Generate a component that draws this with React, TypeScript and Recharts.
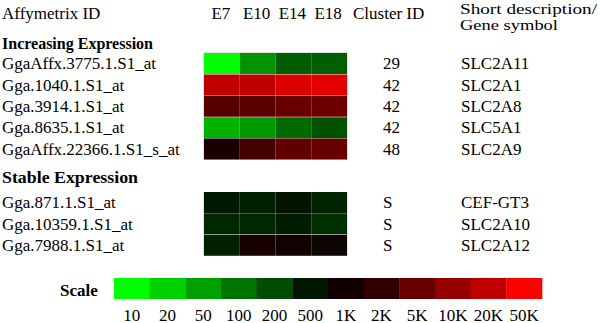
import React from 'react';
import { BarChart, Bar, XAxis, YAxis, Cell, ReferenceArea } from 'recharts';

// ---- data ----
const stages = ['E7', 'E10', 'E14', 'E18'];

const incIds = ['GgaAffx.3775.1.S1_at', 'Gga.1040.1.S1_at', 'Gga.3914.1.S1_at', 'Gga.8635.1.S1_at', 'GgaAffx.22366.1.S1_s_at'];
const incClusters = ['29', '42', '42', '42', '48'];
const incSymbols = ['SLC2A11', 'SLC2A1', 'SLC2A8', 'SLC5A1', 'SLC2A9'];
const incE7 = [10, 20000, 3500, 35, 1200];
const incE10 = [60, 20000, 4000, 55, 2800];
const incE14 = [150, 30000, 5000, 120, 4500];
const incE18 = [150, 33000, 5300, 180, 5000];

const stbIds = ['Gga.871.1.S1_at', 'Gga.10359.1.S1_at', 'Gga.7988.1.S1_at'];
const stbClusters = ['S', 'S', 'S'];
const stbSymbols = ['CEF-GT3', 'SLC2A10', 'SLC2A12'];
const stbE7 = [500, 380, 430];
const stbE10 = [430, 380, 1150];
const stbE14 = [560, 460, 950];
const stbE18 = [400, 330, 850];

const scaleLabels = ['10', '20', '50', '100', '200', '500', '1K', '2K', '5K', '10K', '20K', '50K'];
const scaleValues = [10, 20, 50, 100, 200, 500, 1000, 2000, 5000, 10000, 20000, 50000];
const scaleColors = ['#00ff00', '#00d200', '#00a000', '#007400', '#004c00', '#001800', '#120000', '#300000', '#680000', '#960000', '#c00000', '#ff0000'];

// ---- helpers ----
const FONT = "'Liberation Serif', 'Times New Roman', serif";
const txt: React.CSSProperties = { fontFamily: FONT, fontSize: 17 };
const small: React.CSSProperties = { fontFamily: FONT, fontSize: 15.5 };
const bold: React.CSSProperties = { fontFamily: FONT, fontSize: 16, fontWeight: 'bold' };

function hexToRgb(h: string) {
  return [parseInt(h.slice(1, 3), 16), parseInt(h.slice(3, 5), 16), parseInt(h.slice(5, 7), 16)];
}

function colorFor(v: number) {
  if (v <= scaleValues[0]) return scaleColors[0];
  const n = scaleValues.length;
  if (v >= scaleValues[n - 1]) return scaleColors[n - 1];
  let i = 0;
  while (i < n - 2 && v > scaleValues[i + 1]) i++;
  const t = (Math.log(v) - Math.log(scaleValues[i])) / (Math.log(scaleValues[i + 1]) - Math.log(scaleValues[i]));
  const a = hexToRgb(scaleColors[i]);
  const b = hexToRgb(scaleColors[i + 1]);
  const c = a.map((x, k) => Math.round(x + (b[k] - x) * t));
  return `rgb(${c[0]},${c[1]},${c[2]})`;
}

function buildRows(ids: string[]) {
  return ids.map((id) => ({ gene: id, E7: 1, E10: 1, E14: 1, E18: 1 }));
}

const incValues: Record<string, number[]> = { E7: incE7, E10: incE10, E14: incE14, E18: incE18 };
const stbValues: Record<string, number[]> = { E7: stbE7, E10: stbE10, E14: stbE14, E18: stbE18 };

const makeRowTick = (clusters: string[], symbols: string[]) => (props: any) => {
  const { y, payload } = props;
  const idx = payload.index;
  return (
    <g>
      <text x={2} y={y} dominantBaseline="central" fill="#000" style={txt}>{payload.value}</text>
      <text x={383} y={y} dominantBaseline="central" fill="#000" style={txt}>{clusters[idx]}</text>
      <text x={461} y={y} dominantBaseline="central" fill="#000" style={txt}>{symbols[idx]}</text>
    </g>
  );
};

const StageTick = (props: any) => {
  const { x, payload } = props;
  return (
    <text x={x - 1} y={13.5} textAnchor="middle" dominantBaseline="central" fill="#000" style={txt}>
      {stages[Math.floor(payload.value)]}
    </text>
  );
};

const ScaleTick = (props: any) => {
  const { x, y, payload } = props;
  return (
    <text x={x} y={y + 16} textAnchor="middle" dominantBaseline="central" fill="#000" style={txt}>
      {payload.value}
    </text>
  );
};

function Heatmap({ ids, clusters, symbols, values, height, showStages }: any) {
  const rows = buildRows(ids);
  const RowTick = makeRowTick(clusters, symbols);
  return (
    <BarChart
      width={600}
      height={height}
      data={rows}
      layout="vertical"
      margin={{ top: 0, right: 253, bottom: 0, left: 0 }}
      barCategoryGap={0}
      barGap={0}
    >
      <XAxis
        type="number"
        domain={[0, 4]}
        ticks={[0.5, 1.5, 2.5, 3.5]}
        orientation="top"
        hide={!showStages}
        height={53}
        axisLine={false}
        tickLine={false}
        tick={<StageTick />}
        interval={0}
      />
      <YAxis
        type="category"
        dataKey="gene"
        width={204}
        axisLine={false}
        tickLine={false}
        tick={<RowTick />}
        interval={0}
      />
      {stages.map((s) => (
        <Bar key={s} dataKey={s} stackId="a" isAnimationActive={false}>
          {rows.map((_, i) => (
            <Cell key={i} fill={colorFor(values[s][i])} />
          ))}
        </Bar>
      ))}
      <ReferenceArea
        x1={0}
        x2={4}
        y1={ids[0]}
        y2={ids[ids.length - 1]}
        fill="none"
        stroke="#c4c4c4"
        strokeWidth={1}
        ifOverflow="visible"
      />
    </BarChart>
  );
}

const scaleRows = scaleLabels.map((l) => ({ label: l, one: 1 }));

export default function App() {
  return (
    <div style={{ position: 'absolute', left: 0, top: 0, width: 600, height: 323, background: '#fff', overflow: 'hidden', fontFamily: FONT }}>
      <svg width={600} height={323} style={{ position: 'absolute', left: 0, top: 0 }}>
        <text x={2} y={13.5} dominantBaseline="central" fill="#000" style={txt}>Affymetrix ID</text>
        <text x={353} y={13.5} dominantBaseline="central" fill="#000" style={txt}>Cluster ID</text>
        <text x={460} y={8.5} dominantBaseline="central" fill="#000" style={small} textLength={137} lengthAdjust="spacingAndGlyphs">Short description/</text>
        <text x={460} y={24} dominantBaseline="central" fill="#000" style={small} textLength={98} lengthAdjust="spacingAndGlyphs">Gene symbol</text>
        <text x={2} y={43.5} dominantBaseline="central" fill="#000" style={bold}>Increasing Expression</text>
        <text x={2} y={177} dominantBaseline="central" fill="#000" style={bold} textLength={136} lengthAdjust="spacingAndGlyphs">Stable Expression</text>
        <text x={60} y={290} dominantBaseline="central" fill="#000" style={{ ...bold, fontSize: 17 }}>Scale</text>
      </svg>
      <div style={{ position: 'absolute', left: 0, top: 0 }}>
        <Heatmap ids={incIds} clusters={incClusters} symbols={incSymbols} values={incValues} height={160} showStages />
      </div>
      <div style={{ position: 'absolute', left: 0, top: 192 }}>
        <Heatmap ids={stbIds} clusters={stbClusters} symbols={stbSymbols} values={stbValues} height={64} showStages={false} />
      </div>
      <div style={{ position: 'absolute', left: 0, top: 278 }}>
        <BarChart
          width={600}
          height={45}
          data={scaleRows}
          margin={{ top: 0, right: 58, bottom: 0, left: 114 }}
          barCategoryGap={0}
          barGap={0}
        >
          <XAxis dataKey="label" type="category" height={24} axisLine={false} tickLine={false} tickSize={0} tickMargin={0} tick={<ScaleTick />} interval={0} />
          <YAxis hide domain={[0, 1]} />
          <Bar dataKey="one" isAnimationActive={false}>
            {scaleRows.map((_, i) => (
              <Cell key={i} fill={scaleColors[i]} />
            ))}
          </Bar>
        </BarChart>
      </div>
    </div>
  );
}
